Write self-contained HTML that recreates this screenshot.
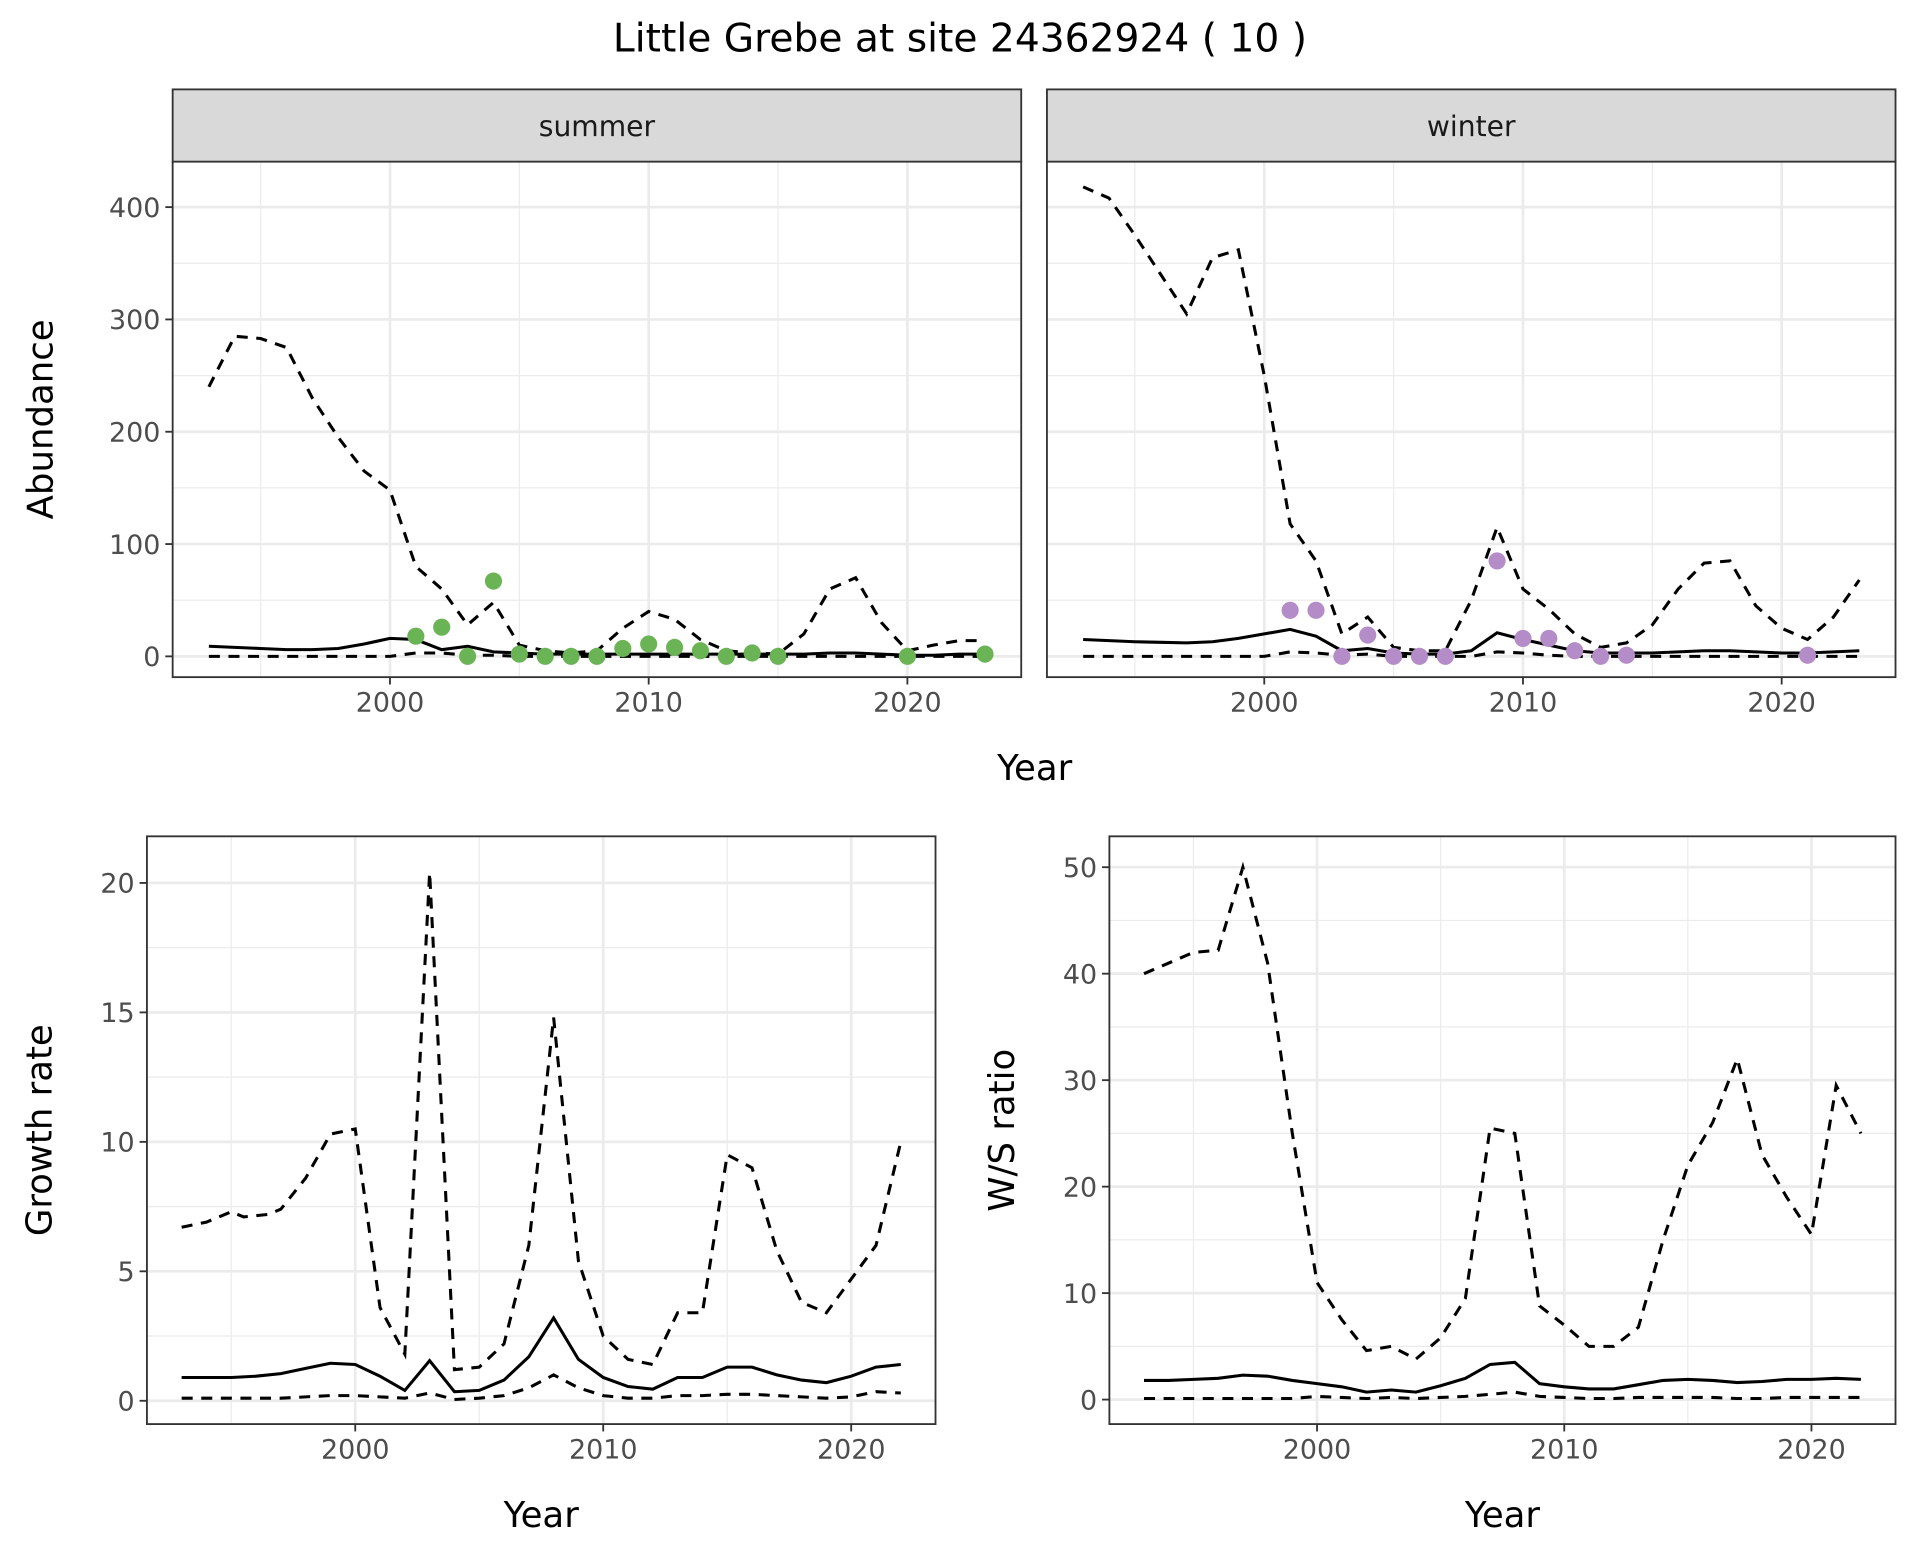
<!DOCTYPE html>
<html><head><meta charset="utf-8"><style>
html,body{margin:0;padding:0;background:#fff}
svg{display:block}
text{font-family:"DejaVu Sans","Liberation Sans",sans-serif}
</style></head><body>
<svg id="s" width="1920" height="1560" viewBox="0 0 1568 1274" preserveAspectRatio="none" xmlns="http://www.w3.org/2000/svg"></svg>
<script>
(function(){
const S=document.getElementById('s');let h='';
h+='<rect width="1568" height="1274" fill="#fff"/>';
h+='<text x="784" y="42" font-size="32" text-anchor="middle">Little Grebe at site 24362924 ( 10 )</text>';
function panel(o){
 const {x0,x1,y0,y1,xr,yr,ticks,minor,series,pts,col,yl,ylx,xl,strip,showY}=o;
 const X=v=>x0+(v-xr[0])/(xr[1]-xr[0])*(x1-x0), Y=v=>y1-(v-yr[0])/(yr[1]-yr[0])*(y1-y0);
 let g='<rect x="'+x0+'" y="'+y0+'" width="'+(x1-x0)+'" height="'+(y1-y0)+'" fill="#fff"/>';
 [1995,2005,2015].forEach(v=>g+=`<line x1="${X(v)}" x2="${X(v)}" y1="${y0}" y2="${y1}" stroke="#ebebeb" stroke-width="1"/>`);
 minor.forEach(v=>{if(Y(v)>y0&&Y(v)<y1)g+=`<line x1="${x0}" x2="${x1}" y1="${Y(v)}" y2="${Y(v)}" stroke="#ebebeb" stroke-width="1"/>`});
 [2000,2010,2020].forEach(v=>g+=`<line x1="${X(v)}" x2="${X(v)}" y1="${y0}" y2="${y1}" stroke="#ebebeb" stroke-width="2.2"/>`);
 ticks.forEach(v=>g+=`<line x1="${x0}" x2="${x1}" y1="${Y(v)}" y2="${Y(v)}" stroke="#ebebeb" stroke-width="2.2"/>`);
 series.forEach(s=>{g+=`<polyline fill="none" stroke="#000" stroke-width="2.5" ${s.d?'stroke-dasharray="9,7"':''} points="${s.p.map(q=>X(q[0])+','+Y(q[1])).join(' ')}"/>`});
 (pts||[]).forEach(q=>g+=`<circle cx="${X(q[0])}" cy="${Y(q[1])}" r="7" fill="${col}"/>`);
 g+=`<rect x="${x0}" y="${y0}" width="${x1-x0}" height="${y1-y0}" fill="none" stroke="#333" stroke-width="1.5"/>`;
 [2000,2010,2020].forEach(v=>{g+=`<line x1="${X(v)}" x2="${X(v)}" y1="${y1}" y2="${y1+6}" stroke="#333" stroke-width="1.5"/><text x="${X(v)}" y="${y1+28}" font-size="22" fill="#4d4d4d" text-anchor="middle">${v}</text>`});
 if(showY)ticks.forEach(v=>{g+=`<line x1="${x0-6}" x2="${x0}" y1="${Y(v)}" y2="${Y(v)}" stroke="#333" stroke-width="1.5"/><text x="${x0-10}" y="${Y(v)+8}" font-size="22" fill="#4d4d4d" text-anchor="end">${v}</text>`});
 if(strip)g+=`<rect x="${x0}" y="73" width="${x1-x0}" height="${y0-73}" fill="#d9d9d9" stroke="#333" stroke-width="1.5"/><text x="${(x0+x1)/2}" y="111" font-size="23" fill="#1a1a1a" text-anchor="middle">${strip}</text>`;
 if(yl)g+=`<text transform="translate(${x0-ylx},${(y0+y1)/2}) rotate(-90)" font-size="29" text-anchor="middle">${yl}</text>`;
 if(xl)g+=`<text x="${(x0+x1)/2}" y="${y1+84}" font-size="29" text-anchor="middle">Year</text>`;
 h+=g;
}
const yrs=a=>a.map((v,i)=>[1993+i,v]);
const sumU=yrs([240,285,283,275,230,195,165,148,80,60,28,48,10,5,3,5,25,40,33,15,5,3,2,20,60,70,30,5,10,14,14]);
const sumM=yrs([9,8,7,6,6,7,11,16,15,6,9,4,3,2,2,2,2,2,2,2,2,2,2,2,3,3,2,1,1,2,2]);
const sumL=yrs([0,0,0,0,0,0,0,0,3,3,1,1,0,0,0,0,0,0,0,0,0,0,0,0,0,0,0,0,0,0,0]);
const sumP=[[2001,18],[2002,26],[2003,0],[2004,67],[2005,2],[2006,0],[2007,0],[2008,0],[2009,7],[2010,11],[2011,8],[2012,5],[2013,0],[2014,3],[2015,0],[2020,0],[2023,2]];
const winU=yrs([418,408,375,340,305,355,362,250,118,85,20,35,8,5,5,50,115,60,42,20,8,12,28,60,83,85,45,25,15,35,68]);
const winM=yrs([15,14,13,12.5,12,13,16,20,24,18,5,7,3,2,2,5,21,15,10,5,3,3,3,4,5,5,4,3,3,4,5]);
const winL=yrs([0,0,0,0,0,0,0,0,4,3,1,2,0,0,0,0,4,3,1,0,0,0,0,0,0,0,0,0,0,0,0]);
const winP=[[2001,41],[2002,41],[2003,0],[2004,19],[2005,0],[2006,0],[2007,0],[2009,85],[2010,16],[2011,16],[2012,5],[2013,0],[2014,1],[2021,1]];
const topP={y0:132,y1:553,xr:[1991.6,2024.4],yr:[-18.5,440.5],ticks:[0,100,200,300,400],minor:[50,150,250,350]};
panel(Object.assign({},topP,{x0:141,x1:834,series:[{p:sumU,d:1},{p:sumM},{p:sumL,d:1}],pts:sumP,col:"#6ab456",strip:"summer",showY:1,yl:"Abundance",ylx:98}));
panel(Object.assign({},topP,{x0:855,x1:1548,series:[{p:winU,d:1},{p:winM},{p:winL,d:1}],pts:winP,col:"#b48cc8",strip:"winter",showY:0}));
h+='<text x="845" y="637" font-size="29" text-anchor="middle">Year</text>';
const gU=[[1993,6.7],[1994,6.9],[1995,7.3],[1995.5,7.1],[1996.5,7.2],[1997,7.4],[1998,8.6],[1999,10.3],[2000,10.5],[2001,3.6],[2002,1.8],[2003,20.4],[2004,1.2],[2005,1.3],[2006,2.2],[2007,6],[2008,14.8],[2009,5.4],[2010,2.5],[2011,1.6],[2012,1.4],[2013,3.4],[2014,3.4],[2015,9.5],[2016,9],[2017,5.8],[2018,3.8],[2019,3.4],[2020,4.7],[2021,6],[2022,10]];
const gM=yrs([0.9,0.9,0.9,0.95,1.05,1.25,1.45,1.4,0.95,0.4,1.55,0.35,0.4,0.8,1.7,3.2,1.6,0.9,0.55,0.45,0.9,0.9,1.3,1.3,1.0,0.8,0.7,0.95,1.3,1.4]);
const gL=yrs([0.1,0.1,0.1,0.1,0.1,0.15,0.2,0.2,0.15,0.1,0.3,0.05,0.1,0.2,0.5,1.0,0.5,0.2,0.1,0.1,0.2,0.2,0.25,0.25,0.2,0.15,0.1,0.15,0.35,0.3]);
panel({x0:120,x1:764,y0:683,y1:1163,xr:[1991.6,2023.4],yr:[-0.9,21.8],ticks:[0,5,10,15,20],minor:[2.5,7.5,12.5,17.5],series:[{p:gU,d:1},{p:gM},{p:gL,d:1}],showY:1,yl:"Growth rate",ylx:78,xl:1});
const wU=yrs([40,41,42,42.2,50,41,25,11,7.5,4.6,5,3.8,5.8,9.5,25.5,25,8.8,7,5,5,6.8,15,22,26,32,23,19,15.5,29.5,25]);
const wM=yrs([1.8,1.8,1.9,2,2.3,2.2,1.8,1.5,1.2,0.7,0.9,0.7,1.3,2,3.3,3.5,1.5,1.2,1,1,1.4,1.8,1.9,1.8,1.6,1.7,1.9,1.9,2,1.9]);
const wL=yrs([0.1,0.1,0.1,0.1,0.1,0.1,0.1,0.3,0.2,0.1,0.2,0.1,0.2,0.3,0.5,0.7,0.3,0.2,0.1,0.1,0.2,0.2,0.2,0.2,0.1,0.1,0.2,0.2,0.2,0.2]);
panel({x0:906,x1:1548,y0:683,y1:1163,xr:[1991.6,2023.4],yr:[-2.3,52.9],ticks:[0,10,20,30,40,50],minor:[5,15,25,35,45],series:[{p:wU,d:1},{p:wM},{p:wL,d:1}],showY:1,yl:"W/S ratio",ylx:78,xl:1});
S.innerHTML=h;
})();
</script>
</body></html>
